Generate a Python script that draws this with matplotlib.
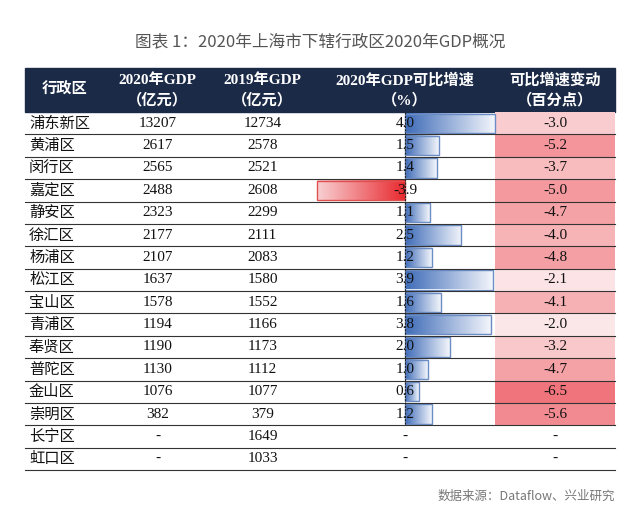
import matplotlib
matplotlib.use("Agg")
import matplotlib.pyplot as plt
import numpy as np
from matplotlib.patches import Rectangle
from matplotlib.colors import LinearSegmentedColormap

plt.rcParams['font.family'] = ['Noto Sans CJK SC', 'DejaVu Sans']

districts = ["浦东新区","黄浦区","闵行区","嘉定区","静安区","徐汇区","杨浦区","松江区","宝山区","青浦区","奉贤区","普陀区","金山区","崇明区","长宁区","虹口区"]
gdp2020 = ["13207","2617","2565","2488","2323","2177","2107","1637","1578","1194","1190","1130","1076","382","-","-"]
gdp2019 = ["12734","2578","2521","2608","2299","2111","2083","1580","1552","1166","1173","1112","1077","379","1649","1033"]
growth = [4.0,1.5,1.4,-3.9,1.1,2.5,1.2,3.9,1.6,3.8,2.0,1.0,0.6,1.2,None,None]
change = [-3.0,-5.2,-3.7,-5.0,-4.7,-4.0,-4.8,-2.1,-4.1,-2.0,-3.2,-4.7,-6.5,-5.6,None,None]
headers = [("行政区",""),("2020年GDP","（亿元）"),("2019年GDP","（亿元）"),("2020年GDP可比增速","（%）"),("可比增速变动","（百分点）")]

W,H = 640,526
fig = plt.figure(figsize=(W/100,H/100),dpi=100)
ax = fig.add_axes([0,0,1,1]); ax.set_xlim(0,W); ax.set_ylim(H,0); ax.axis('off')

cols = [25,105,210,315,495,615]
top, hb = 68, 112
rh = (470-hb)/len(districts)
hfam = ['Liberation Serif','Noto Sans CJK SC']
ax.text(320,42,"图表 1：2020年上海市下辖行政区2020年GDP概况",ha='center',va='center',fontsize=12,color='#555555')
ax.add_patch(Rectangle((cols[0],top),cols[-1]-cols[0],hb-top,color='#1B2A47'))
for i,(a,b) in enumerate(headers):
    cx=(cols[i]+cols[i+1])/2
    if b:
        ax.text(cx,80,a,ha='center',va='center',color='white',fontsize=11,fontweight='bold',family=hfam)
        ax.text(cx,100,b,ha='center',va='center',color='white',fontsize=11,fontweight='bold',family=hfam)
    else:
        ax.text(cx,90,a,ha='center',va='center',color='white',fontsize=11,fontweight='bold',family=hfam)

zero = 405; scale = 90/4.0
blue = LinearSegmentedColormap.from_list('b',['#3F6CB8','#F2F5FB'])
red = LinearSegmentedColormap.from_list('r',['#FFFFFF','#E8303A'])
redg = LinearSegmentedColormap.from_list('rg',['#F8D0D2','#E82A30'])
grad = np.linspace(0,1,100).reshape(1,-1)
for r,name in enumerate(districts):
    y0 = hb+r*rh; cy=y0+rh/2
    c = change[r]
    if c is not None:
        t = (abs(c)-2.0)/4.5
        ax.add_patch(Rectangle((cols[4],y0),cols[5]-cols[4],rh,color=red(0.12+0.55*t),lw=0))
    g = growth[r]
    if g is not None:
        L = g*scale
        if g>0:
            ax.imshow(grad,cmap=blue,extent=(zero,zero+L,y0+rh-1.5,y0+1.5),aspect='auto',zorder=2)
            ax.add_patch(Rectangle((zero,y0+1.5),L,rh-3,fill=False,ec='#6C8CC4',lw=1,zorder=3))
        else:
            ax.imshow(grad,cmap=redg,extent=(zero+L,zero,y0+rh-1.5,y0+1.5),aspect='auto',zorder=2)
            ax.add_patch(Rectangle((zero+L,y0+1.5),-L,rh-3,fill=False,ec='#E05050',lw=1,zorder=3))
    vals=[name,gdp2020[r],gdp2019[r],"-" if g is None else f"{g:.1f}","-" if c is None else f"{c:.1f}"]
    for i,v in enumerate(vals):
        fam = ['Noto Sans CJK SC'] if i==0 else ['Liberation Serif','Noto Sans CJK SC']
        x = cols[0]+4 if i==0 else (cols[i]+cols[i+1])/2
        ax.text(x,cy,v,ha='left' if i==0 else 'center',va='center',fontsize=11,family=fam,color='#111111',zorder=4)
    ax.plot([cols[0],cols[-1]],[y0+rh,y0+rh],color='#333333',lw=0.8,zorder=5)
ax.plot([zero,zero],[hb,hb+14*rh],color='#222222',lw=0.8,ls=(0,(2,1)),zorder=5)
ax.text(615,496,"数据来源：Dataflow、兴业研究",ha='right',va='center',fontsize=9,color='#777777')
fig.savefig("out.png",dpi=100)
